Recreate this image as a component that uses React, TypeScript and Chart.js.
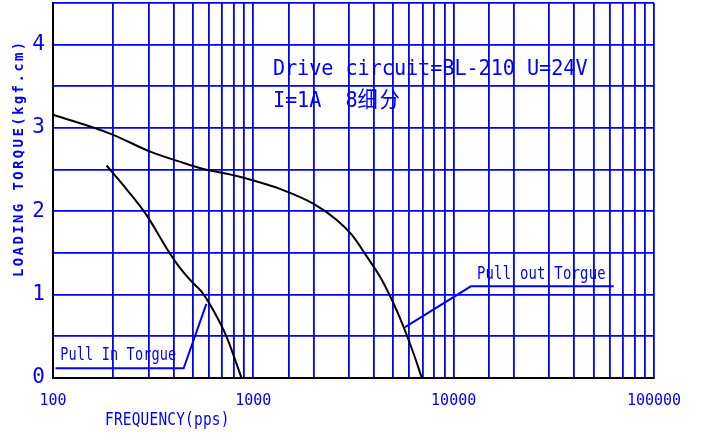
import React, { useEffect, useRef } from 'react';
import { Chart, registerables } from 'chart.js';

Chart.register(...registerables);

// ---- data ----
const pullOutFreq = [100, 194, 310, 437, 540, 808, 1000, 1357, 2000, 2600, 3097, 3681, 4375, 5000, 5610, 6295, 6936];
const pullOutTorque = [3.16, 2.93, 2.71, 2.59, 2.52, 2.43, 2.37, 2.27, 2.09, 1.9, 1.72, 1.46, 1.18, 0.9, 0.62, 0.3, 0];

const pullInFreq = [185, 232, 292, 382, 437, 500, 550, 629, 734, 873];
const pullInTorque = [2.55, 2.27, 1.96, 1.5, 1.3, 1.14, 1.04, 0.82, 0.5, 0];

const pullInLeaderFreq = [103, 449, 583];
const pullInLeaderTorque = [0.117, 0.117, 0.89];
const pullOutLeaderFreq = [5721, 12190, 62950];
const pullOutLeaderTorque = [0.61, 1.1, 1.1];

const xMin = 100;
const xMax = 100000;
const yMin = 0;
const yMax = 4.5;
const yStep = 0.5;

const titleLine1 = 'Drive circuit=BL-210 U=24V';
const titleLine2 = 'I=1A  8细分';
const yTitle = 'LOADING TORQUE(kgf.cm)';
const xTitle = 'FREQUENCY(pps)';
const pullInLabel = 'Pull In Torgue';
const pullOutLabel = 'Pull out Torgue';

const BLUE = '#0000ff';
const MONO = '"DejaVu Sans Mono", "Noto Sans CJK SC", monospace';

const toPoints = (xs: number[], ys: number[]) => xs.map((x, i) => ({ x, y: ys[i] }));

function drawMono(
  ctx: CanvasRenderingContext2D,
  text: string,
  x: number,
  y: number,
  o: { size: number; adv: number; sx: number; weight?: string; cjkAdv?: number }
) {
  ctx.save();
  ctx.fillStyle = BLUE;
  ctx.textBaseline = 'alphabetic';
  ctx.textAlign = 'left';
  ctx.font = `${o.weight || 'normal'} ${o.size}px ${MONO}`;
  let cx = x;
  for (const ch of text) {
    const cjk = ch.charCodeAt(0) > 0x2e80;
    ctx.save();
    ctx.translate(cx, y);
    ctx.scale(o.sx, 1);
    ctx.fillText(ch, 0, 0);
    ctx.restore();
    cx += cjk ? (o.cjkAdv || o.adv * 1.8) : o.adv;
  }
  ctx.restore();
}

const textPlugin = {
  id: 'cadText',
  afterDraw(chart: any) {
    const { ctx } = chart;
    const xs = chart.scales.x;
    const ys = chart.scales.y;
    const px = (v: number) => xs.getPixelForValue(v);
    const py = (v: number) => ys.getPixelForValue(v);

    drawMono(ctx, titleLine1, px(1252), py(3.64), { size: 22, adv: 12.1, sx: 0.92 });
    drawMono(ctx, titleLine2, px(1252), py(3.25), { size: 22, adv: 12.1, sx: 0.92, cjkAdv: 22 });

    drawMono(ctx, pullInLabel, px(108.6), py(0.217), { size: 17, adv: 8.3, sx: 0.8 });
    drawMono(ctx, pullOutLabel, px(13060), py(1.19), { size: 17, adv: 8.6, sx: 0.82 });

    // x axis title
    drawMono(ctx, xTitle, 105, 425, { size: 17, adv: 8.9, sx: 0.85 });

    // y axis title (rotated)
    ctx.save();
    ctx.translate(23, 277);
    ctx.rotate(-Math.PI / 2);
    drawMono(ctx, yTitle, 0, 0, { size: 14, adv: 10.8, sx: 1, weight: 'bold' });
    ctx.restore();
  },
};

export default function App() {
  const ref = useRef<HTMLCanvasElement | null>(null);

  useEffect(() => {
    if (!ref.current) return;
    const chart = new Chart(ref.current, {
      type: 'line',
      data: {
        datasets: [
          {
            data: toPoints(pullOutFreq, pullOutTorque),
            borderColor: '#000000',
            borderWidth: 2,
            pointRadius: 0,
            cubicInterpolationMode: 'monotone',
            fill: false,
          },
          {
            data: toPoints(pullInFreq, pullInTorque),
            borderColor: '#000000',
            borderWidth: 2,
            pointRadius: 0,
            cubicInterpolationMode: 'monotone',
            fill: false,
          },
          {
            data: toPoints(pullInLeaderFreq, pullInLeaderTorque),
            borderColor: BLUE,
            borderWidth: 2,
            pointRadius: 0,
            tension: 0,
            fill: false,
          },
          {
            data: toPoints(pullOutLeaderFreq, pullOutLeaderTorque),
            borderColor: BLUE,
            borderWidth: 2,
            pointRadius: 0,
            tension: 0,
            fill: false,
          },
        ],
      },
      options: {
        responsive: false,
        animation: false,
        devicePixelRatio: 1,
        layout: { padding: { top: 3, right: 50, left: 0, bottom: 0 } },
        plugins: {
          legend: { display: false },
          tooltip: { enabled: false },
          title: { display: false },
        },
        scales: {
          x: {
            type: 'logarithmic',
            min: xMin,
            max: xMax,
            grid: {
              color: (c: any) => (c.tick && c.tick.value === xMin ? '#000000' : BLUE),
              lineWidth: 1.8,
              drawTicks: false,
            },
            border: { color: '#000000', width: 2 },
            ticks: {
              autoSkip: false,
              maxRotation: 0,
              minRotation: 0,
              padding: 14,
              color: BLUE,
              font: { family: MONO, size: 15 },
              callback: (v: any) => {
                const l = Math.log10(Number(v));
                return Math.abs(l - Math.round(l)) < 1e-9 ? String(Math.round(Number(v))) : '';
              },
            },
            afterFit: (s: any) => {
              s.height = 55;
              s.paddingLeft = 0;
              s.paddingRight = 0;
            },
          },
          y: {
            type: 'linear',
            min: yMin,
            max: yMax,
            grid: {
              color: (c: any) => (c.tick && c.tick.value === yMin ? '#000000' : BLUE),
              lineWidth: 1.8,
              drawTicks: false,
            },
            border: { color: '#000000', width: 2 },
            ticks: {
              stepSize: yStep,
              padding: 8,
              color: BLUE,
              font: { family: MONO, size: 21 },
              callback: (v: any) => (Number.isInteger(Number(v)) ? String(v) : ''),
            },
            afterFit: (s: any) => {
              s.width = 53;
              s.paddingTop = 0;
              s.paddingBottom = 0;
            },
          },
        },
      },
      plugins: [textPlugin],
    } as any);
    return () => chart.destroy();
  }, []);

  return (
    <div style={{ position: 'absolute', left: 0, top: 0, width: 704, height: 433, background: '#fff' }}>
      <canvas ref={ref} width={704} height={433} />
    </div>
  );
}
